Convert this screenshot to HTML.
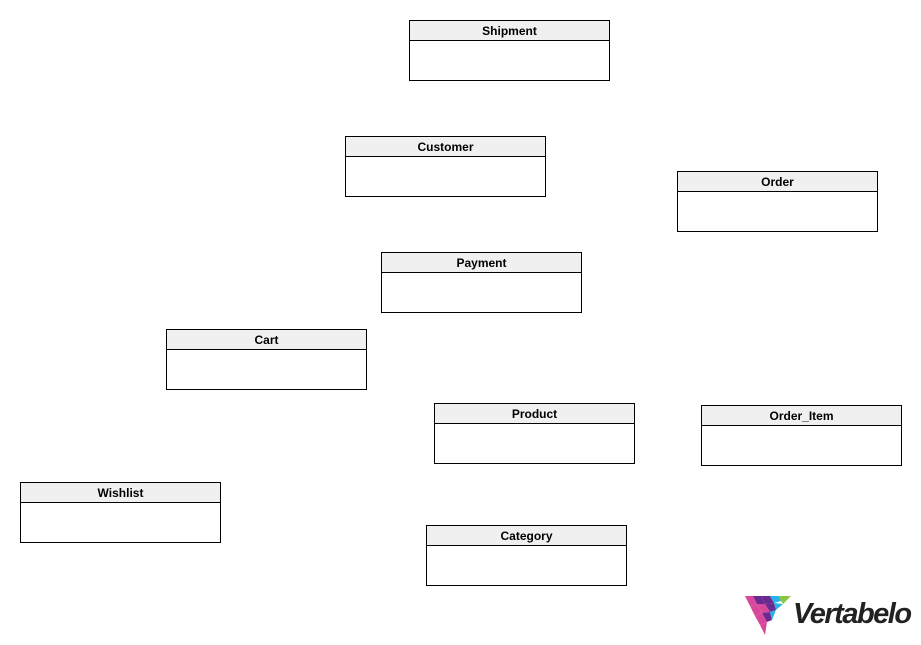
<!DOCTYPE html>
<html><head><style>
body{margin:0;width:921px;height:645px;background:#fff;position:relative;overflow:hidden;font-family:"Liberation Sans",sans-serif}
.b{position:absolute;width:199px;height:59px;border:1px solid #000;background:#fff}
.h{height:19px;border-bottom:1px solid #000;background:#f0f0f0;text-align:center;font-size:12px;font-weight:bold;line-height:20px}
.logo{position:absolute;left:793px;top:598px;font-size:29px;font-weight:bold;font-style:italic;color:#222;letter-spacing:-1.5px}
</style></head><body>
<div class="b" style="left:409px;top:20px"><div class="h">Shipment</div></div>
<div class="b" style="left:345px;top:136px"><div class="h">Customer</div></div>
<div class="b" style="left:677px;top:171px"><div class="h">Order</div></div>
<div class="b" style="left:381px;top:252px"><div class="h">Payment</div></div>
<div class="b" style="left:166px;top:329px"><div class="h">Cart</div></div>
<div class="b" style="left:434px;top:403px"><div class="h">Product</div></div>
<div class="b" style="left:701px;top:405px"><div class="h">Order_Item</div></div>
<div class="b" style="left:20px;top:482px"><div class="h">Wishlist</div></div>
<div class="b" style="left:426px;top:525px"><div class="h">Category</div></div>
<svg style="position:absolute;left:745px;top:594px" width="46" height="42" viewBox="0 0 46 42">
<polygon points="0,2 8,2 12,10 5,12" fill="#d9479b"/>
<polygon points="8,2 16,2 20,10 12,10" fill="#6a2a8f"/>
<polygon points="16,2 25,2 29,9 20,10" fill="#6a2a8f"/>
<polygon points="25,2 34,2 36,7 29,9" fill="#27b3e8"/>
<polygon points="34,2 46,2 38,10 36,7" fill="#8cc63f"/>
<polygon points="5,12 12,10 17,19 10,22" fill="#d9479b"/>
<polygon points="12,10 20,10 25,18 17,19" fill="#d9479b"/>
<polygon points="20,10 29,9 31,16 25,18" fill="#6a2a8f"/>
<polygon points="29,9 38,10 31,16" fill="#27b3e8"/>
<polygon points="10,22 17,19 22,28 15,31" fill="#d9479b"/>
<polygon points="17,19 25,18 27,26 22,28" fill="#6a2a8f"/>
<polygon points="25,18 31,16 27,26" fill="#27b3e8"/>
<polygon points="15,31 22,28 20,41" fill="#d9479b"/>
</svg>
<div class="logo">Vertabelo</div>
</body></html>
